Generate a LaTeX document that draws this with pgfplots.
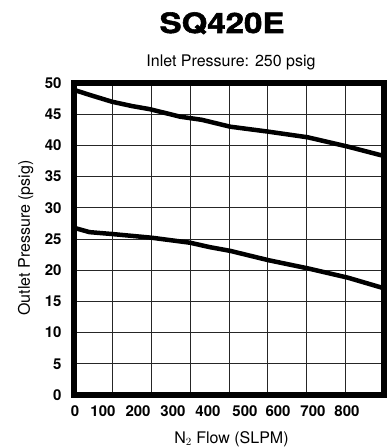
\documentclass[border=0pt]{standalone}
\usepackage{pgfplots}
\pgfplotsset{compat=1.18}
\usepackage{fontspec}
\setmainfont{TeX Gyre Heros}
\newfontfamily\titlefont{TeX Gyre Heros}[BoldFeatures={FakeBold=2,FakeStretch=1.18}]

\pgfplotstableread{
x y
0   48.9
40  48.1
98  47.0
150 46.3
196 45.8
274 44.6
330 44.1
403 43.0
502 42.2
603 41.3
707 39.8
800 38.3
}\uppercurve

\pgfplotstableread{
x y
0   26.8
40  26.1
98  25.8
201 25.2
300 24.4
350 23.7
403 23.1
502 21.6
603 20.3
707 18.8
800 17.1
}\lowercurve

\begin{document}
\begin{tikzpicture}[x=1pt,y=1pt]
\path[use as bounding box] (0,0) rectangle (387,448);
\begin{axis}[
 at={(74pt,53pt)}, anchor=south west,
 scale only axis, width=310pt, height=312pt,
 xmin=0,xmax=800,ymin=0,ymax=50,
 xtick={0,100,...,800}, xticklabels={},
 extra x ticks={2.6,74.8,165.2,255.5,345.8,441.3,526.5,616.8,704.5},
 extra x tick labels={0,100,200,300,400,500,600,700,800},
 extra x tick style={grid=none},
 ytick={0,5,...,50},
 grid=major,
 major grid style={line width=0.9pt, black!85},
 major tick length=0pt,
 axis line style={line width=6.5pt},
 tick label style={font=\fontsize{15}{15}\selectfont\bfseries},
 /pgf/number format/assume math mode=true,
 xticklabel style={yshift=-7pt},
 yticklabel style={xshift=-9pt},
]
\addplot[line width=4.5pt, line join=round, no marks] table[x=x,y=y] {\uppercurve};
\addplot[line width=4.5pt, line join=round, no marks] table[x=x,y=y] {\lowercurve};
\end{axis}
\node[anchor=base] at (222,415) {\titlefont\fontsize{28}{30}\selectfont\bfseries SQ420E};
\node[anchor=base] at (231,381) {\fontsize{16}{18}\selectfont Inlet Pressure: 250 psig};
\node[anchor=base] at (231.5,5) {\fontsize{16}{18}\selectfont N$_2$ Flow (SLPM)};
\node[anchor=base, rotate=90] at (30,210) {\fontsize{16}{18}\selectfont Outlet Pressure (psig)};
\end{tikzpicture}
\end{document}
